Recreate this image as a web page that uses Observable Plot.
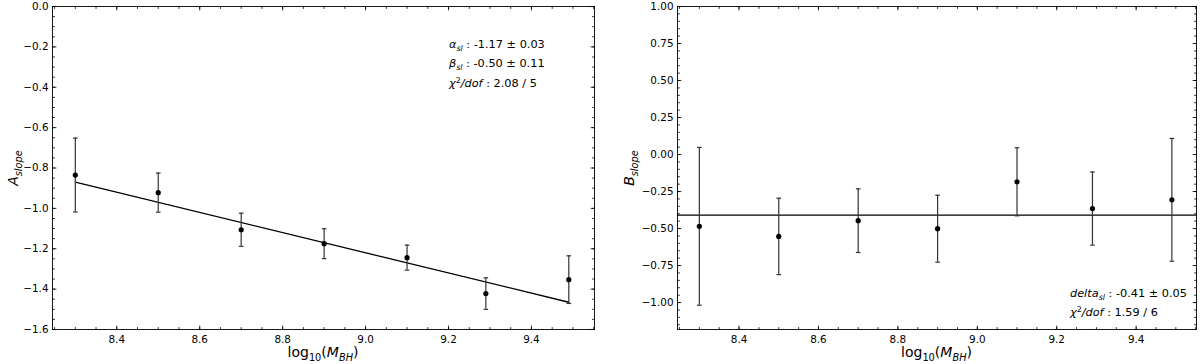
<!DOCTYPE html>
<html><head><meta charset="utf-8">
<script src="https://cdn.jsdelivr.net/npm/d3@7"></script>
<script src="https://cdn.jsdelivr.net/npm/@observablehq/plot@0.6"></script>
<style>
body{margin:0;background:#fff}
#wrap{display:flex;width:1200px;height:364px;background:#fff}
</style>
</head><body><div id="wrap"></div>
<script>
// ---- data ----
const xVals  = [8.30, 8.50, 8.70, 8.90, 9.10, 9.29, 9.49];
const aSlope = [-0.835, -0.922, -1.106, -1.175, -1.244, -1.422, -1.353];
const aErr   = [0.183, 0.097, 0.082, 0.074, 0.062, 0.078, 0.118];
const bSlope = [-0.485, -0.553, -0.447, -0.501, -0.184, -0.365, -0.306];
const bErr   = [0.533, 0.258, 0.215, 0.226, 0.230, 0.247, 0.415];
const fitX   = [8.30, 9.49];
const fitA   = [-0.870, -1.465];
const deltaB = [-0.41];
const xTicks = [8.4, 8.6, 8.8, 9.0, 9.2, 9.4];
const aTicks = [0.0, -0.2, -0.4, -0.6, -0.8, -1.0, -1.2, -1.4, -1.6];
const bTicks = [1.00, 0.75, 0.50, 0.25, 0.00, -0.25, -0.50, -0.75, -1.00];
const xMinor = d3.range(165, 192).map(i => i / 20);
const aMinor = d3.range(-32, 1).map(i => i / 20);
const bMinor = d3.range(-23, 21).map(i => i / 20);

const FONT = "DejaVu Sans";
const errColor = "#333";
const tickShape = {draw(ctx, l) { ctx.moveTo(0, 0); ctx.lineTo(0, -l); }};
const capSymbol = {draw(ctx) { ctx.moveTo(-2.3, 0); ctx.lineTo(2.3, 0); }};

function tickMarks(vals, side, len) {
  const rot = {bottom: 0, top: 180, left: 90, right: -90}[side];
  const ch = (side === "bottom" || side === "top") ? "x" : "y";
  return Plot.vector(vals, {[ch]: d => d, frameAnchor: side, rotate: rot, length: len,
    anchor: "start", shape: tickShape, stroke: "black", strokeWidth: 0.8});
}
function allTicks(xMaj, xMin, yMaj, yMin) {
  const out = [];
  for (const s of ["bottom", "top"]) { out.push(tickMarks(xMin, s, 2), tickMarks(xMaj, s, 3.5)); }
  for (const s of ["left", "right"]) { out.push(tickMarks(yMin, s, 2), tickMarks(yMaj, s, 3.5)); }
  return out;
}

function rich(svg, x, y, parts, opts = {}) {
  const fs = opts.fontSize || 11;
  const t = d3.select(svg).append("text")
    .attr("x", x).attr("y", y)
    .attr("font-family", FONT).attr("font-size", fs).attr("fill", "black")
    .attr("text-anchor", opts.anchor || "start");
  if (opts.rotate) t.attr("transform", `rotate(${opts.rotate},${x},${y})`);
  let shift = 0;
  for (const p of parts) {
    const target = p.sub ? 0.28 * fs : p.sup ? -0.38 * fs : 0;
    const s = t.append("tspan").text(p.t);
    if (target !== shift) { s.attr("dy", target - shift); shift = target; }
    if (p.sub || p.sup) s.attr("font-size", fs * 0.7);
    if (p.it) s.attr("font-style", "italic");
  }
  return t;
}

function panel({width, marginLeft, marginRight, yDomain, yTicks, yMinor, yFmt, rows, extra}) {
  return Plot.plot({
    width, height: 364,
    marginLeft, marginRight, marginTop: 6, marginBottom: 35,
    style: {fontFamily: FONT, fontSize: "10.4px", color: "black", background: "white"},
    x: {domain: [8.245, 9.552], label: null},
    y: {domain: yDomain, label: null},
    marks: [
      Plot.frame({stroke: "black", strokeWidth: 0.9}),
      Plot.axisX(xTicks, {tickSize: 0, tickPadding: 6, tickFormat: d3.format(".1f"), label: null}),
      Plot.axisY(yTicks, {tickSize: 0, tickPadding: 4, tickFormat: yFmt, label: null}),
      ...allTicks(xTicks, xMinor, yTicks, yMinor),
      ...extra,
      Plot.ruleX(rows, {x: "x", y1: "lo", y2: "hi", stroke: errColor, strokeWidth: 1.2}),
      Plot.dot(rows, {x: "x", y: "lo", symbol: capSymbol, fill: "none", stroke: errColor, strokeWidth: 1.2}),
      Plot.dot(rows, {x: "x", y: "hi", symbol: capSymbol, fill: "none", stroke: errColor, strokeWidth: 1.2}),
      Plot.dot(rows, {x: "x", y: "y", r: 2.6, fill: "black"})
    ]
  });
}

const rowsA = xVals.map((x, i) => ({x, y: aSlope[i], lo: aSlope[i] - aErr[i], hi: aSlope[i] + aErr[i]}));
const rowsB = xVals.map((x, i) => ({x, y: bSlope[i], lo: bSlope[i] - bErr[i], hi: bSlope[i] + bErr[i]}));
const fitRows = fitX.map((x, i) => ({x, y: fitA[i]}));

const left = panel({
  width: 600, marginLeft: 52, marginRight: 6,
  yDomain: [-1.6, 0], yTicks: aTicks, yMinor: aMinor, yFmt: d3.format(".1f"),
  rows: rowsA,
  extra: [Plot.line(fitRows, {x: "x", y: "y", stroke: "black", strokeWidth: 1.3})]
});
const right = panel({
  width: 600, marginLeft: 77, marginRight: 4,
  yDomain: [-1.182, 1.0], yTicks: bTicks, yMinor: bMinor, yFmt: d3.format(".2f"),
  rows: rowsB,
  extra: [Plot.ruleY(deltaB, {stroke: "black", strokeWidth: 1.3})]
});

const wrap = document.getElementById("wrap");
wrap.append(left, right);

const xLabel = [{t: "log"}, {t: "10", sub: true}, {t: "("}, {t: "M", it: true}, {t: "BH", it: true, sub: true}, {t: ")"}];
rich(left, 323, 357, xLabel, {fontSize: 14, anchor: "middle"});
rich(right, 336.5, 357, xLabel, {fontSize: 14, anchor: "middle"});
rich(left, 18, 168, [{t: "A", it: true}, {t: "slope", it: true, sub: true}], {fontSize: 14, anchor: "middle", rotate: -90});
rich(right, 34, 168, [{t: "B", it: true}, {t: "slope", it: true, sub: true}], {fontSize: 14, anchor: "middle", rotate: -90});

rich(left, 449, 48, [{t: "α", it: true}, {t: "sl", it: true, sub: true}, {t: " : -1.17 ± 0.03"}], {fontSize: 11.3});
rich(left, 449, 67, [{t: "β", it: true}, {t: "sl", it: true, sub: true}, {t: " : -0.50 ± 0.11"}], {fontSize: 11.3});
rich(left, 449, 87, [{t: "χ", it: true}, {t: "2", sup: true}, {t: "/dof", it: true}, {t: " : 2.08 / 5"}], {fontSize: 11.3});
rich(right, 470, 297, [{t: "delta", it: true}, {t: "sl", it: true, sub: true}, {t: " : -0.41 ± 0.05"}], {fontSize: 11.3});
rich(right, 470, 316, [{t: "χ", it: true}, {t: "2", sup: true}, {t: "/dof", it: true}, {t: " : 1.59 / 6"}], {fontSize: 11.3});
</script></body></html>
